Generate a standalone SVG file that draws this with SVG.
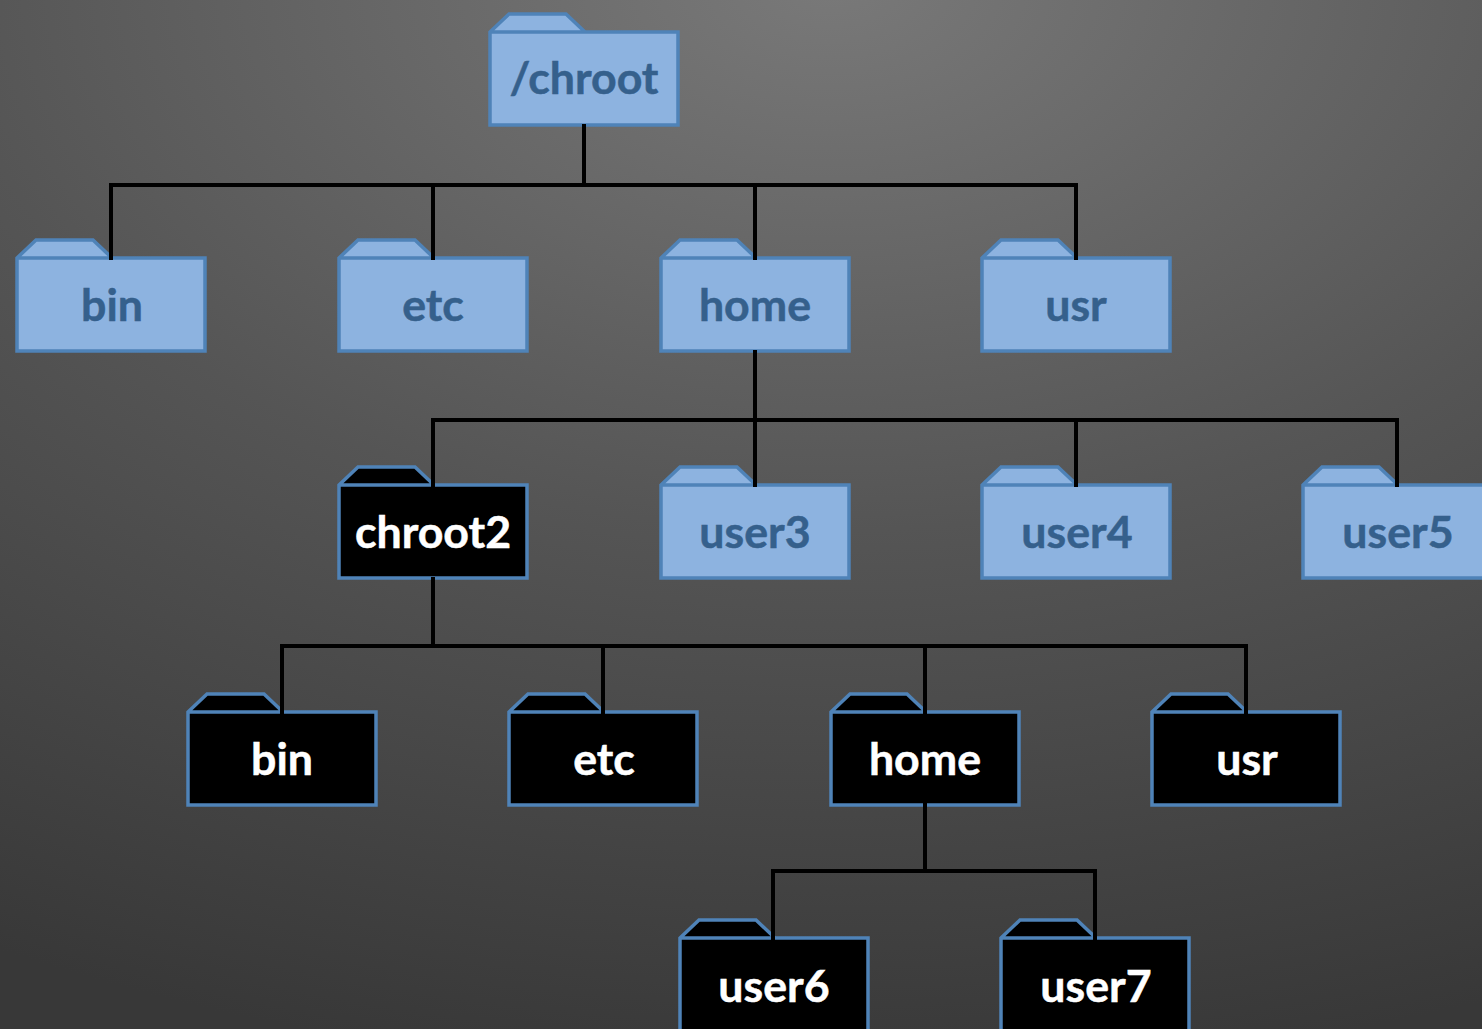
<svg xmlns="http://www.w3.org/2000/svg" xmlns:xlink="http://www.w3.org/1999/xlink" width="1482" height="1029" viewBox="0 0 1482 1029">
<style>
.f{stroke:#4f83b8;stroke-width:3.5;stroke-linejoin:miter}
.lt{fill:#8db3e0}
.dk{fill:#000}
text{font-family:"Lato","Open Sans","Liberation Sans",sans-serif;font-weight:700;font-size:44.7px;text-anchor:middle;stroke-width:.5}
.lt text{fill:#35608c;stroke:#35608c}
.dk text{fill:#fff;stroke:#fff}
.c{fill:none;stroke:#000;stroke-width:4;stroke-linecap:square}
</style>
<defs>
<radialGradient id="bg" gradientUnits="userSpaceOnUse" cx="0" cy="0" r="1100" gradientTransform="translate(830 -20) scale(1.6 1)">
<stop offset="0" stop-color="#797979"/>
<stop offset="0.5" stop-color="#555555"/>
<stop offset="1" stop-color="#383838"/>
</radialGradient>
<path id="folder" class="f" d="M0 0L19 -18H76L95 0H188V93H0Z M0 0H95"/>
</defs>
<rect width="1482" height="1029" fill="url(#bg)"/>
<g id="n-chroot" class="lt" transform="translate(490 32)"><use xlink:href="#folder" href="#folder"/><text x="94" y="62">/chroot</text></g>
<g id="n-bin" class="lt" transform="translate(17 258)"><use xlink:href="#folder" href="#folder"/><text x="95" y="63">bin</text></g>
<g id="n-etc" class="lt" transform="translate(339 258)"><use xlink:href="#folder" href="#folder"/><text x="94" y="63">etc</text></g>
<g id="n-home" class="lt" transform="translate(661 258)"><use xlink:href="#folder" href="#folder"/><text x="94" y="63">home</text></g>
<g id="n-usr" class="lt" transform="translate(982 258)"><use xlink:href="#folder" href="#folder"/><text x="94" y="63">usr</text></g>
<g id="n-chroot2" class="dk" transform="translate(339 485)"><use xlink:href="#folder" href="#folder"/><text x="94" y="63">chroot2</text></g>
<g id="n-user3" class="lt" transform="translate(661 485)"><use xlink:href="#folder" href="#folder"/><text x="94" y="63">user3</text></g>
<g id="n-user4" class="lt" transform="translate(982 485)"><use xlink:href="#folder" href="#folder"/><text x="95" y="63">user4</text></g>
<g id="n-user5" class="lt" transform="translate(1303 485)"><use xlink:href="#folder" href="#folder"/><text x="95" y="63">user5</text></g>
<g id="n-bin2" class="dk" transform="translate(188 712)"><use xlink:href="#folder" href="#folder"/><text x="94" y="63">bin</text></g>
<g id="n-etc2" class="dk" transform="translate(509 712)"><use xlink:href="#folder" href="#folder"/><text x="95" y="63">etc</text></g>
<g id="n-home2" class="dk" transform="translate(831 712)"><use xlink:href="#folder" href="#folder"/><text x="94" y="63">home</text></g>
<g id="n-usr2" class="dk" transform="translate(1152 712)"><use xlink:href="#folder" href="#folder"/><text x="95" y="63">usr</text></g>
<g id="n-user6" class="dk" transform="translate(680 938)"><use xlink:href="#folder" href="#folder"/><text x="94" y="64">user6</text></g>
<g id="n-user7" class="dk" transform="translate(1001 938)"><use xlink:href="#folder" href="#folder"/><text x="95" y="64">user7</text></g>
<g id="connectors">
<path class="c" d="M584 126V185M111 258V185H1076V258M433 185V258M755 185V258"/>
<path class="c" d="M755 352V420M433 485V420H1397V485M755 420V485M1076 420V485"/>
<path class="c" d="M433 579V646M282 712V646H1246V712M603 646V712M925 646V712"/>
<path class="c" d="M925 805V871M773 938V871H1095V938"/>
</g>
</svg>
